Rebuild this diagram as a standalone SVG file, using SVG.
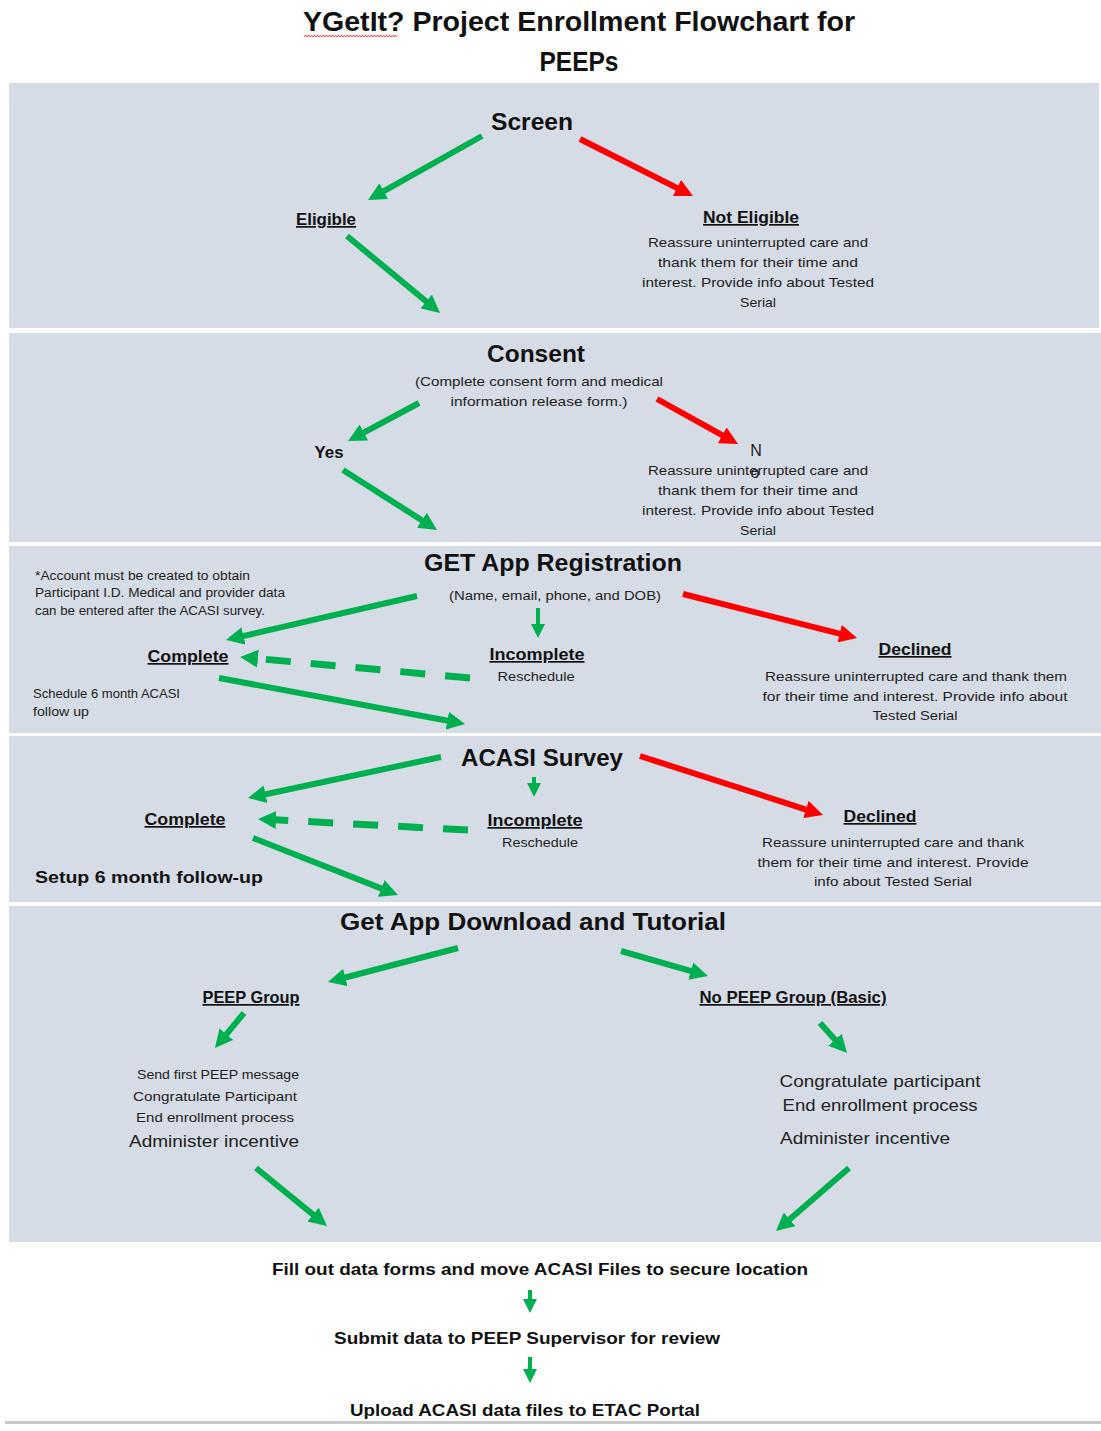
<svg xmlns="http://www.w3.org/2000/svg" width="1101" height="1431" viewBox="0 0 1101 1431">
<defs>
<style>
text{font-family:"Liberation Sans",Arial,sans-serif;fill:#111;}
.t{font-size:28px;font-weight:bold;text-anchor:middle;}
.h{font-size:24px;font-weight:bold;text-anchor:middle;}
.l{font-size:17px;font-weight:bold;text-anchor:middle;text-decoration:underline;}
.b{font-size:13.5px;text-anchor:middle;fill:#222;}
.n{font-size:12px;fill:#222;}
.m{font-size:17px;text-anchor:middle;fill:#222;}
.f{font-size:17px;font-weight:bold;text-anchor:middle;}
.band{fill:#d6dce5;}
.g{stroke:#00b050;stroke-width:6;fill:none;marker-end:url(#ag);}
.r{stroke:#ff0000;stroke-width:6;fill:none;marker-end:url(#ar);}
.d{stroke:#00b050;stroke-width:7;fill:none;stroke-dasharray:25 20;marker-end:url(#ag);}
.s{stroke:#00b050;stroke-width:4;fill:none;marker-end:url(#as);}
</style>
<marker id="ag" viewBox="0 0 18 18" markerWidth="18" markerHeight="18" refX="6" refY="9" orient="auto" markerUnits="userSpaceOnUse"><path d="M0,0 L18,9 L0,18 z" fill="#00b050"/></marker>
<marker id="ar" viewBox="0 0 18 18" markerWidth="18" markerHeight="18" refX="6" refY="9" orient="auto" markerUnits="userSpaceOnUse"><path d="M0,0 L18,9 L0,18 z" fill="#ff0000"/></marker>
<marker id="as" viewBox="0 0 14 14" markerWidth="14" markerHeight="14" refX="5" refY="7" orient="auto" markerUnits="userSpaceOnUse"><path d="M0,0 L14,7 L0,14 z" fill="#00b050"/></marker>
</defs>
<rect x="0" y="0" width="1101" height="1431" fill="#ffffff"/>

<g id="title">
<text class="t" x="579" y="31" textLength="552" lengthAdjust="spacingAndGlyphs">YGetIt? Project Enrollment Flowchart for</text>
<text class="t" x="579" y="71" textLength="79" lengthAdjust="spacingAndGlyphs">PEEPs</text>
<path d="M304,37 l1.5,-2 l1.5,2 l1.5,-2 l1.5,2 l1.5,-2 l1.5,2 l1.5,-2 l1.5,2 l1.5,-2 l1.5,2 l1.5,-2 l1.5,2 l1.5,-2 l1.5,2 l1.5,-2 l1.5,2 l1.5,-2 l1.5,2 l1.5,-2 l1.5,2 l1.5,-2 l1.5,2 l1.5,-2 l1.5,2 l1.5,-2 l1.5,2 l1.5,-2 l1.5,2 l1.5,-2 l1.5,2 l1.5,-2 l1.5,2 l1.5,-2 l1.5,2 l1.5,-2 l1.5,2 l1.5,-2 l1.5,2 l1.5,-2 l1.5,2 l1.5,-2 l1.5,2 l1.5,-2 l1.5,2 l1.5,-2 l1.5,2 l1.5,-2 l1.5,2 l1.5,-2 l1.5,2 l1.5,-2 l1.5,2 l1.5,-2 l1.5,2 l1.5,-2 l1.5,2 l1.5,-2 l1.5,2 l1.5,-2 l1.5,2 l1.5,-2 l1.5,2" fill="none" stroke="#ff3b3b" stroke-width="1"/>
</g>

<g id="bands">
<rect class="band" x="9" y="83" width="1090" height="245"/>
<rect class="band" x="9" y="333" width="1092" height="209"/>
<rect class="band" x="9" y="546" width="1092" height="187"/>
<rect class="band" x="9" y="736" width="1092" height="166"/>
<rect class="band" x="9" y="906" width="1092" height="336"/>
<rect x="5" y="1421" width="1096" height="3" fill="#c9c9c9"/>
</g>

<g id="screen">
<text class="h" x="532" y="130" textLength="82" lengthAdjust="spacingAndGlyphs">Screen</text>
</g>
<g id="eligible">
<text class="l" x="326" y="225" textLength="60" lengthAdjust="spacingAndGlyphs">Eligible</text>
</g>
<g id="not-eligible">
<text class="l" x="751" y="223" textLength="96" lengthAdjust="spacingAndGlyphs">Not Eligible</text>
<text class="b" x="758" y="247" textLength="220" lengthAdjust="spacingAndGlyphs">Reassure uninterrupted care and</text>
<text class="b" x="758" y="267" textLength="200" lengthAdjust="spacingAndGlyphs">thank them for their time and</text>
<text class="b" x="758" y="287" textLength="232" lengthAdjust="spacingAndGlyphs">interest. Provide info about Tested</text>
<text class="b" x="758" y="307" textLength="36" lengthAdjust="spacingAndGlyphs">Serial</text>
</g>

<g id="consent">
<text class="h" x="536" y="362" textLength="98" lengthAdjust="spacingAndGlyphs">Consent</text>
<text class="b" x="539" y="386" textLength="248" lengthAdjust="spacingAndGlyphs">(Complete consent form and medical</text>
<text class="b" x="539" y="406" textLength="177" lengthAdjust="spacingAndGlyphs">information release form.)</text>
</g>
<g id="yes">
<text class="f" x="329" y="458" textLength="29" lengthAdjust="spacingAndGlyphs">Yes</text>
</g>
<g id="no">
<text class="m" x="756" y="456" style="font-size:16px">N</text>
<text class="m" x="755" y="478" style="font-size:16px">o</text>
<text class="b" x="758" y="475" textLength="220" lengthAdjust="spacingAndGlyphs">Reassure uninterrupted care and</text>
<text class="b" x="758" y="495" textLength="200" lengthAdjust="spacingAndGlyphs">thank them for their time and</text>
<text class="b" x="758" y="515" textLength="232" lengthAdjust="spacingAndGlyphs">interest. Provide info about Tested</text>
<text class="b" x="758" y="535" textLength="36" lengthAdjust="spacingAndGlyphs">Serial</text>
</g>

<g id="get-app-registration">
<text class="h" x="553" y="571" textLength="258" lengthAdjust="spacingAndGlyphs">GET App Registration</text>
<text class="b" x="555" y="600" textLength="212" lengthAdjust="spacingAndGlyphs">(Name, email, phone, and DOB)</text>
</g>
<g id="account-note">
<text class="n" x="35" y="580" textLength="215" lengthAdjust="spacingAndGlyphs">*Account must be created to obtain</text>
<text class="n" x="35" y="597" textLength="250" lengthAdjust="spacingAndGlyphs">Participant I.D. Medical and provider data</text>
<text class="n" x="35" y="615" textLength="230" lengthAdjust="spacingAndGlyphs">can be entered after the ACASI survey.</text>
</g>
<g id="reg-complete">
<text class="l" x="188" y="662" textLength="81" lengthAdjust="spacingAndGlyphs">Complete</text>
<text class="n" x="33" y="698" textLength="147" lengthAdjust="spacingAndGlyphs">Schedule 6 month ACASI</text>
<text class="n" x="33" y="716" textLength="56" lengthAdjust="spacingAndGlyphs">follow up</text>
</g>
<g id="reg-incomplete">
<text class="l" x="537" y="660" textLength="95" lengthAdjust="spacingAndGlyphs">Incomplete</text>
<text class="b" x="536" y="681" textLength="77" lengthAdjust="spacingAndGlyphs">Reschedule</text>
</g>
<g id="reg-declined">
<text class="l" x="915" y="655" textLength="73" lengthAdjust="spacingAndGlyphs">Declined</text>
<text class="b" x="916" y="681" textLength="302" lengthAdjust="spacingAndGlyphs">Reassure uninterrupted care and thank them</text>
<text class="b" x="915" y="701" textLength="305" lengthAdjust="spacingAndGlyphs">for their time and interest. Provide info about</text>
<text class="b" x="915" y="720" textLength="85" lengthAdjust="spacingAndGlyphs">Tested Serial</text>
</g>

<g id="acasi-survey">
<text class="h" x="542" y="766" textLength="162" lengthAdjust="spacingAndGlyphs">ACASI Survey</text>
</g>
<g id="acasi-complete">
<text class="l" x="185" y="825" textLength="81" lengthAdjust="spacingAndGlyphs">Complete</text>
<text class="f" x="35" y="883" style="text-anchor:start" textLength="228" lengthAdjust="spacingAndGlyphs">Setup 6 month follow-up</text>
</g>
<g id="acasi-incomplete">
<text class="l" x="535" y="826" textLength="95" lengthAdjust="spacingAndGlyphs">Incomplete</text>
<text class="b" x="540" y="847" textLength="76" lengthAdjust="spacingAndGlyphs">Reschedule</text>
</g>
<g id="acasi-declined">
<text class="l" x="880" y="822" textLength="73" lengthAdjust="spacingAndGlyphs">Declined</text>
<text class="b" x="893" y="847" textLength="262" lengthAdjust="spacingAndGlyphs">Reassure uninterrupted care and thank</text>
<text class="b" x="893" y="867" textLength="271" lengthAdjust="spacingAndGlyphs">them for their time and interest. Provide</text>
<text class="b" x="893" y="886" textLength="158" lengthAdjust="spacingAndGlyphs">info about Tested Serial</text>
</g>

<g id="download-tutorial">
<text class="h" x="533" y="930" textLength="386" lengthAdjust="spacingAndGlyphs">Get App Download and Tutorial</text>
</g>
<g id="peep-group">
<text class="l" x="251" y="1003" textLength="97" lengthAdjust="spacingAndGlyphs">PEEP Group</text>
<text class="b" x="218" y="1079" textLength="162" lengthAdjust="spacingAndGlyphs">Send first PEEP message</text>
<text class="b" x="215" y="1101" textLength="164" lengthAdjust="spacingAndGlyphs">Congratulate Participant</text>
<text class="b" x="215" y="1122" textLength="158" lengthAdjust="spacingAndGlyphs">End enrollment process</text>
<text class="m" x="214" y="1147" textLength="170" lengthAdjust="spacingAndGlyphs">Administer incentive</text>
</g>
<g id="no-peep-group">
<text class="l" x="793" y="1003" textLength="187" lengthAdjust="spacingAndGlyphs">No PEEP Group (Basic)</text>
<text class="m" x="880" y="1087" textLength="201" lengthAdjust="spacingAndGlyphs">Congratulate participant</text>
<text class="m" x="880" y="1111" textLength="195" lengthAdjust="spacingAndGlyphs">End enrollment process</text>
<text class="m" x="865" y="1144" textLength="170" lengthAdjust="spacingAndGlyphs">Administer incentive</text>
</g>

<g id="fill-out">
<text class="f" x="540" y="1275" textLength="536" lengthAdjust="spacingAndGlyphs">Fill out data forms and move ACASI Files to secure location</text>
</g>
<g id="submit">
<text class="f" x="527" y="1344" textLength="386" lengthAdjust="spacingAndGlyphs">Submit data to PEEP Supervisor for review</text>
</g>
<g id="upload">
<text class="f" x="525" y="1416" textLength="350" lengthAdjust="spacingAndGlyphs">Upload ACASI data files to ETAC Portal</text>
</g>

<g id="connectors">
<line class="g" x1="482" y1="136" x2="378.5" y2="194.1"/>
<line class="r" x1="580" y1="139" x2="682.3" y2="190.6"/>
<line class="g" x1="347" y1="236" x2="430.8" y2="305.3"/>
<line class="g" x1="419" y1="403" x2="358.6" y2="435.3"/>
<line class="r" x1="657" y1="399" x2="727.5" y2="438.2"/>
<line class="g" x1="343" y1="470" x2="426.9" y2="523.5"/>
<line class="g" x1="417" y1="596" x2="237.7" y2="637.3"/>
<line class="s" x1="538" y1="608" x2="538" y2="629"/>
<line class="r" x1="683" y1="594" x2="845.4" y2="635.1"/>
<line class="d" x1="470" y1="678" x2="252" y2="658.1"/>
<line class="g" x1="219" y1="678" x2="453.2" y2="721.8"/>
<line class="g" x1="441" y1="757" x2="259.7" y2="795.5"/>
<line class="s" x1="534" y1="777" x2="534" y2="788"/>
<line class="r" x1="640" y1="756" x2="811.6" y2="811.3"/>
<line class="d" x1="468" y1="830" x2="270" y2="819.6"/>
<line class="g" x1="253" y1="838" x2="386.8" y2="890.6"/>
<line class="g" x1="458" y1="948" x2="339.6" y2="979"/>
<line class="g" x1="621" y1="951" x2="696.5" y2="972.7"/>
<line class="g" x1="244" y1="1013" x2="222.6" y2="1038.8"/>
<line class="g" x1="820" y1="1023" x2="839" y2="1044.1"/>
<line class="g" x1="256" y1="1168" x2="317.7" y2="1218.4"/>
<line class="g" x1="849" y1="1168" x2="785.1" y2="1223.2"/>
<line class="s" x1="530" y1="1290" x2="530" y2="1304"/>
<line class="s" x1="530" y1="1357" x2="530" y2="1374"/>
</g>
</svg>
